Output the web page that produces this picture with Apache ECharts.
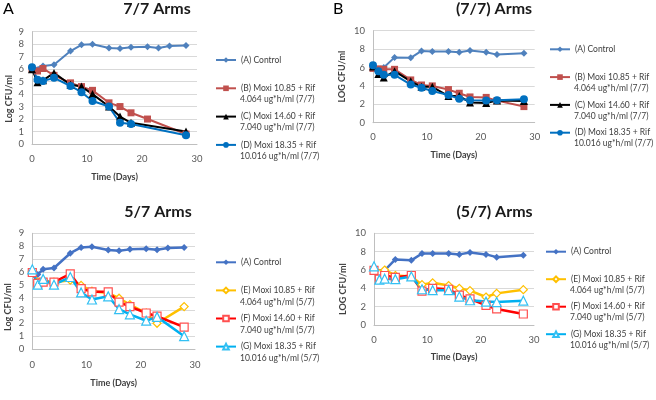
<!DOCTYPE html>
<html><head><meta charset="utf-8">
<script src="https://cdn.jsdelivr.net/npm/echarts@6/dist/echarts.min.js"></script>
<style>html,body{margin:0;padding:0;background:#fff}#c{width:656px;height:400px}</style>
</head><body><div id="c"></div>
<script>
// ---------- Panel A : 7/7 Arms ----------
const ctrlA_days = [0, 2, 4, 7, 9, 11, 14, 16, 18, 21, 23, 25, 28];
const ctrlA_vals = [6.0, 6.25, 6.35, 7.45, 7.95, 8.0, 7.7, 7.65, 7.75, 7.8, 7.7, 7.85, 7.9];
const bA_days = [0, 1, 2, 4, 7, 9, 11, 14, 16, 18, 21, 28];
const bA_vals = [6.0, 5.85, 6.05, 5.5, 4.9, 4.6, 4.3, 3.3, 3.0, 2.5, 2.0, 0.8];
const cA_days = [0, 1, 2, 4, 7, 9, 11, 14, 16, 18, 28];
const cA_vals = [6.0, 4.95, 5.1, 5.7, 4.75, 4.6, 4.0, 3.0, 2.2, 1.7, 1.0];
const dA_days = [0, 1, 2, 4, 7, 9, 11, 14, 16, 18, 28];
const dA_vals = [6.15, 5.15, 5.05, 5.3, 4.65, 4.15, 3.45, 3.0, 1.7, 1.6, 0.7];

// ---------- Panel B : (7/7) Arms ----------
const ctrlB_days = [0, 2, 4, 7, 9, 11, 14, 16, 18, 21, 23, 28];
const ctrlB_vals = [6.0, 6.0, 7.1, 7.05, 7.8, 7.75, 7.75, 7.65, 7.85, 7.65, 7.4, 7.55];
const tB_days = [0, 1, 2, 4, 7, 9, 11, 14, 16, 18, 21, 23, 28];
const bB_vals = [5.9, 5.85, 5.8, 5.8, 4.65, 4.1, 4.0, 3.6, 3.2, 2.8, 2.75, 2.4, 1.75];
const cB_vals = [6.1, 5.3, 4.9, 5.6, 4.5, 3.9, 3.9, 2.9, 2.9, 2.2, 2.15, 2.4, 2.35];
const dB_vals = [6.25, 5.6, 5.2, 5.2, 4.15, 3.8, 3.45, 3.0, 2.6, 2.45, 2.4, 2.45, 2.55];

// ---------- Panel C : 5/7 Arms ----------
const ctrlC_days = [0, 1, 2, 4, 7, 9, 11, 14, 16, 18, 21, 23, 25, 28];
const ctrlC_vals = [6.0, 5.8, 6.2, 6.3, 7.45, 7.9, 7.95, 7.7, 7.65, 7.75, 7.8, 7.72, 7.85, 7.9];
const tC_days = [0, 1, 2, 4, 7, 9, 11, 14, 16, 18, 21, 23, 28];
const eC_vals = [6.0, 5.2, 5.3, 5.2, 5.35, 4.95, 4.5, 4.35, 3.95, 3.45, 2.8, 2.0, 3.3];
const fC_vals = [5.95, 5.1, 5.2, 5.2, 5.85, 4.7, 4.45, 4.45, 3.65, 3.3, 2.8, 2.55, 1.7];
const gC_vals = [6.2, 5.0, 5.45, 5.0, 5.6, 4.4, 3.85, 4.1, 3.1, 2.7, 2.2, 2.5, 1.0];

// ---------- Panel D : (5/7) Arms ----------
const ctrlD_days = [0, 2, 4, 7, 9, 11, 14, 16, 18, 21, 23, 28];
const ctrlD_vals = [6.0, 5.95, 7.15, 7.05, 7.8, 7.8, 7.8, 7.7, 7.9, 7.7, 7.4, 7.6];
const tD_days = [0, 1, 2, 4, 7, 9, 11, 14, 16, 18, 21, 23, 28];
const eD_vals = [6.0, 5.6, 6.0, 5.4, 5.3, 4.4, 4.6, 4.3, 4.0, 3.75, 3.05, 3.45, 3.85];
const fD_vals = [5.95, 5.0, 5.4, 5.2, 5.4, 3.7, 4.0, 3.9, 3.25, 2.85, 2.15, 1.75, 1.2];
const gD_vals = [6.4, 4.95, 5.05, 5.0, 5.3, 3.9, 3.8, 3.8, 3.1, 2.7, 2.55, 2.5, 2.65];

// ---------- labels ----------
const panelTitles = ['7/7 Arms', '(7/7) Arms', '5/7 Arms', '(5/7) Arms'];
const panelLetters = ['A', 'B'];
const xName = 'Time (Days)';
const yNames = ['Log CFU/ml', 'LOG CFU/ml', 'Log CFU/ml', 'LOG CFU/ml'];
const ctrlName = '(A) Control';
const namesAB = ['(B) Moxi 10.85 + Rif', '(C) Moxi 14.60 + Rif', '(D) Moxi 18.35 + Rif'];
const namesCD = ['(E) Moxi 10.85 + Rif', '(F) Moxi 14.60 + Rif', '(G) Moxi 18.35 + Rif'];
const line2AB = ['4.064 ug*h/ml (7/7)', '7.040 ug*h/ml (7/7)', '10.016 ug*h/ml (7/7)'];
const line2CD = ['4.064 ug*h/ml (5/7)', '7.040 ug*h/ml (5/7)', '10.016 ug*h/ml (5/7)'];

const F = 'Lato, "Open Sans", sans-serif';
const pairs = (d, v) => d.map((x, i) => [x, v[i]]);
const sp = n => ' '.repeat(n); // keeps legend names unique per panel

const grids = [
  {left: 32, top: 31.7, width: 165, height: 112.3},
  {left: 373, top: 30.7, width: 161.7, height: 92},
  {left: 32.3, top: 233.3, width: 162.7, height: 115.7},
  {left: 374, top: 233.3, width: 160, height: 91.7}
];
const xGaps = [29, 27.8, 29.2, 27.2];
const xMargins = [10, 9.5, 10.5, 9.8];
const yGaps = [18.2, 26.5, 19.5, 26.5];
const yPads = [[0, 22, 0, 0], [0, 0, 0, 0], [0, 32, 0, 0], [0, 20, 0, 0]];
const yMax = [9, 10, 9, 10];
const yInt = [1, 2, 1, 2];

const xAxes = grids.map((g, i) => ({
  type: 'value', gridIndex: i, min: 0, max: 30, interval: 10,
  name: xName, nameLocation: 'middle', nameGap: xGaps[i],
  nameTextStyle: {fontFamily: F, fontSize: 9, fontWeight: 'bold', color: '#404040'},
  axisLine: {show: true, lineStyle: {color: '#BFBFBF', width: 1}},
  axisTick: {show: false},
  axisLabel: {margin: xMargins[i], fontFamily: F, fontSize: 9.5, color: '#595959'},
  splitLine: {show: false}
}));
const yAxes = grids.map((g, i) => ({
  type: 'value', gridIndex: i, min: 0, max: yMax[i], interval: yInt[i],
  name: yNames[i], nameLocation: 'middle', nameGap: yGaps[i], nameRotate: 90,
  nameTextStyle: {fontFamily: F, fontSize: 9, fontWeight: 'bold', color: '#404040', padding: yPads[i]},
  axisLine: {show: true, lineStyle: {color: '#BFBFBF', width: 1}},
  axisTick: {show: false},
  axisLabel: {margin: 8, fontFamily: F, fontSize: 9.5, color: '#595959'},
  splitLine: {show: true, lineStyle: {color: '#D9D9D9', width: 1}}
}));

function solid(name, gi, data, color, symbol, size, width) {
  return {
    type: 'line', name, xAxisIndex: gi, yAxisIndex: gi, data,
    symbol, symbolSize: size, showSymbol: true,
    lineStyle: {color, width}, itemStyle: {color},
    emphasis: {disabled: true}, animation: false
  };
}
function hollow(name, gi, data, color, border, symbol, size, width) {
  return {
    type: 'line', name, xAxisIndex: gi, yAxisIndex: gi, data,
    symbol, symbolSize: size, showSymbol: true,
    lineStyle: {color, width},
    itemStyle: {color: '#FFFFFF', borderColor: border, borderWidth: 1.2},
    emphasis: {disabled: true}, animation: false
  };
}

const series = [
  // Panel A
  solid(ctrlName, 0, pairs(ctrlA_days, ctrlA_vals), '#4F81BD', 'diamond', 7, 2),
  solid(namesAB[0], 0, pairs(bA_days, bA_vals), '#C0504D', 'rect', 7, 2),
  solid(namesAB[1], 0, pairs(cA_days, cA_vals), '#000000', 'triangle', 8, 2),
  solid(namesAB[2], 0, pairs(dA_days, dA_vals), '#0070C0', 'circle', 8, 2),
  // Panel B
  solid(ctrlName + sp(1), 1, pairs(ctrlB_days, ctrlB_vals), '#4F81BD', 'diamond', 7, 2),
  solid(namesAB[0] + sp(1), 1, pairs(tB_days, bB_vals), '#C0504D', 'rect', 7, 2),
  solid(namesAB[1] + sp(1), 1, pairs(tB_days, cB_vals), '#000000', 'triangle', 8, 2),
  solid(namesAB[2] + sp(1), 1, pairs(tB_days, dB_vals), '#0070C0', 'circle', 8, 2),
  // Panel C
  solid(ctrlName + sp(2), 2, pairs(ctrlC_days, ctrlC_vals), '#4472C4', 'diamond', 7, 2.5),
  hollow(namesCD[0], 2, pairs(tC_days, eC_vals), '#FFC000', '#FFC000', 'diamond', 8, 2.5),
  hollow(namesCD[1], 2, pairs(tC_days, fC_vals), '#FF0000', '#FF5050', 'rect', 8, 2.5),
  hollow(namesCD[2], 2, pairs(tC_days, gC_vals), '#00B0F0', '#33C0F3', 'triangle', 9, 2.5),
  // Panel D
  solid(ctrlName + sp(3), 3, pairs(ctrlD_days, ctrlD_vals), '#4472C4', 'diamond', 7, 2.5),
  hollow(namesCD[0] + sp(1), 3, pairs(tD_days, eD_vals), '#FFC000', '#FFC000', 'diamond', 8, 2.5),
  hollow(namesCD[1] + sp(1), 3, pairs(tD_days, fD_vals), '#FF0000', '#FF5050', 'rect', 8, 2.5),
  hollow(namesCD[2] + sp(1), 3, pairs(tD_days, gD_vals), '#00B0F0', '#33C0F3', 'triangle', 9, 2.5)
];

const legendPos = [
  {left: 215, top: 55, gap: 18.3},
  {left: 549, top: 44.3, gap: 17.8},
  {left: 215, top: 257.3, gap: 18.1},
  {left: 545, top: 246.7, gap: 17.5}
];
const legends = legendPos.map((p, i) => ({
  orient: 'vertical', left: p.left, top: p.top, itemGap: p.gap,
  itemWidth: 20, itemHeight: 7, selectedMode: false, padding: 0,
  data: series.slice(i * 4, i * 4 + 4).map(s => s.name),
  textStyle: {fontFamily: F, fontSize: 8.5, color: '#404040', lineHeight: 10, height: 10}
}));

// second lines of legend labels
const second = [];
legendPos.forEach((p, i) => {
  const texts = i < 2 ? line2AB : line2CD;
  const off = i === 2 ? 12 : 11.5;
  for (let k = 0; k < 3; k++) {
    const y1 = p.top + 5 + (k + 1) * (10 + p.gap);
    second.push({
      type: 'text', left: p.left + 25, top: y1 + off - 5,
      style: {text: texts[k], font: '8.5px ' + F, fill: '#404040'}
    });
  }
});

const titles = [
  {text: panelTitles[0], left: 157, top: 1, textAlign: 'center'},
  {text: panelTitles[1], left: 494, top: 1, textAlign: 'center'},
  {text: panelTitles[2], left: 158, top: 204, textAlign: 'center'},
  {text: panelTitles[3], left: 494.5, top: 204, textAlign: 'center'}
].map(t => Object.assign(t, {padding: 0, textStyle: {fontFamily: F, fontSize: 16, fontWeight: 'bold', color: '#1A1A1A'}}));
titles.push({text: panelLetters[0], left: 3, top: 1, padding: 0, textStyle: {fontFamily: F, fontSize: 16, fontWeight: 'normal', color: '#000'}});
titles.push({text: panelLetters[1], left: 333, top: 1, padding: 0, textStyle: {fontFamily: F, fontSize: 16, fontWeight: 'normal', color: '#000'}});

const chart = echarts.init(document.getElementById('c'), null, {renderer: 'canvas'});
chart.setOption({
  animation: false,
  backgroundColor: '#FFFFFF',
  title: titles,
  grid: grids,
  xAxis: xAxes,
  yAxis: yAxes,
  legend: legends,
  series,
  graphic: second
});
</script></body></html>
